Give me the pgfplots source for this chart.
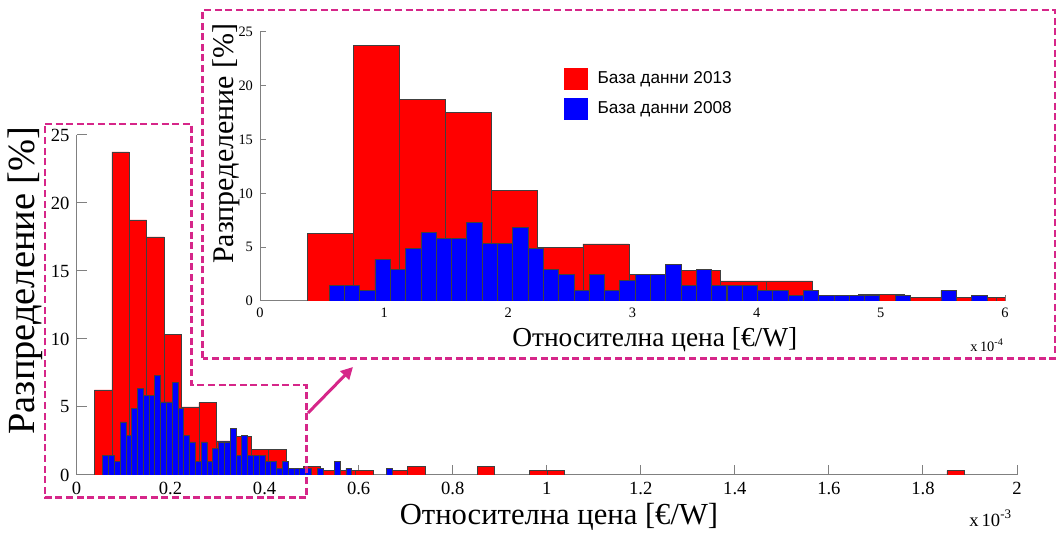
\documentclass[border=0pt]{standalone}
\usepackage{pgfplots}
\pgfplotsset{compat=1.18}
\usepackage{pgfplotstable}
\usepackage{fontspec}
\setmainfont{Liberation Serif}
\newfontfamily\legendfont{Liberation Sans}
\usetikzlibrary{arrows.meta}

\definecolor{frame}{RGB}{214,38,137}
\definecolor{axisgray}{RGB}{128,128,128}

% Histogram of relative price, 2013 database (bin centres in 1e-4 EUR/W, share in %)
\pgfplotstableread{
x       y
0.566   6.25
0.936   23.75
1.306   18.75
1.676   17.5
2.046   10.3125
2.416   5
2.786   5.3125
3.156   2.5
3.526   2.8125
3.896   1.875
4.266   1.875
4.636   0
5.006   0.625
5.376   0.3125
5.746   0.3125
6.116   0.3125
6.486   0
6.856   0.3125
7.226   0.625
7.596   0
7.966   0
8.336   0
8.706   0.625
9.076   0
9.446   0
9.816   0.3125
10.186  0.3125
10.556  0
10.926  0
11.296  0
11.666  0
12.036  0
12.406  0
12.776  0
13.146  0
13.516  0
13.886  0
14.256  0
14.626  0
14.996  0
15.366  0
15.736  0
16.106  0
16.476  0
16.846  0
17.216  0
17.586  0
17.956  0
18.326  0
18.696  0.3125
}\dataA

% Histogram of relative price, 2008 database
\pgfplotstableread{
x       y
0.618   1.46
0.741   1.46
0.864   0.98
0.987   3.90
1.110   2.93
1.234   4.88
1.357   6.34
1.480   5.85
1.603   5.85
1.726   7.32
1.850   5.37
1.973   5.37
2.096   6.83
2.219   4.88
2.342   2.93
2.466   2.44
2.589   0.98
2.712   2.44
2.835   0.98
2.958   1.95
3.082   2.44
3.205   2.44
3.328   3.41
3.451   1.46
3.574   2.93
3.698   1.46
3.821   1.46
3.944   1.46
4.067   0.98
4.190   0.98
4.314   0.49
4.437   0.98
4.560   0.49
4.683   0.49
4.806   0.49
4.930   0.49
5.053   0
5.176   0.49
5.299   0
5.422   0
5.546   0.98
5.669   0
5.792   0.49
5.915   0
6.038   0
6.162   0
6.285   0
6.408   0
6.531   0
6.654   0.49
}\dataB

\pgfplotsset{
  histaxis/.style={
    scale only axis,
    axis x line=bottom, axis y line=left,
    axis line style={-, draw=axisgray, line width=0.5pt},
    tick style={draw=axisgray, line width=0.5pt},
    tick align=inside,
    ymin=0, ymax=25, ytick={0,5,...,25},
    /pgf/number format/assume math mode=true,
    clip mode=individual,
  },
  redbar/.style={ybar, bar shift=0pt, fill=red, draw=black!75, line width=0.3pt,
    restrict y to domain=0.01:100},
  bluebar/.style={ybar, bar shift=0pt, fill=blue, draw=black!75, line width=0.3pt,
    restrict y to domain=0.01:100},
}

\begin{document}
\begin{tikzpicture}
\path[use as bounding box] (0pt,0pt) rectangle (529pt,266.5pt);

% full range
\begin{axis}[histaxis,
  at={(38.25pt,29pt)}, anchor=south west,
  width=470.25pt, height=170pt,
  xmin=0, xmax=2, xtick={0,0.2,...,2},
  major tick length=5pt,
  tick label style={font=\fontsize{9.3}{11}\selectfont},
  xlabel={Относителна цена [€/W]},
  ylabel={Разпределение [\%]},
  xlabel style={font=\fontsize{15.3}{18}\selectfont,
    at={(axis description cs:0.513,-0.124)}, anchor=center},
  ylabel style={font=\fontsize{19.2}{22}\selectfont,
    at={(axis description cs:-0.055,0.572)}, anchor=center},
]
\addplot[redbar, bar width=0.037] table[x expr=\thisrow{x}/10, y=y] {\dataA};
\addplot[bluebar, bar width=0.01232] table[x expr=\thisrow{x}/10, y=y] {\dataB};
\node[font=\fontsize{9.3}{11}\selectfont, anchor=center] at (rel axis cs:0.972,-0.128) {x\,10\textsuperscript{-3}};
\end{axis}

% zoom on 0 ... 6e-4
\begin{axis}[histaxis,
  at={(130pt,116pt)}, anchor=south west,
  width=372.5pt, height=134.5pt,
  xmin=0, xmax=6, xtick={0,1,...,6},
  major tick length=3pt,
  tick label style={font=\fontsize{7.2}{9}\selectfont},
  xlabel={Относителна цена [€/W]},
  ylabel={Разпределение [\%]},
  xlabel style={font=\fontsize{13.7}{16}\selectfont,
    at={(axis description cs:0.53,-0.145)}, anchor=center},
  ylabel style={font=\fontsize{15}{18}\selectfont,
    at={(axis description cs:-0.045,0.585)}, anchor=center},
  legend style={at={(axis description cs:0.407,0.871)}, anchor=north west,
    draw=none, fill=none, inner sep=0pt, row sep=3.5pt,
    font=\legendfont\fontsize{8.6}{10}\selectfont},
  legend cell align=left,
  legend image code/.code={\path[#1, draw=none] (-1pt,-5.5pt) rectangle (11pt,5.5pt);},
]
\addplot[redbar, bar width=0.370] table[x=x, y=y] {\dataA};
\addlegendentry{\hspace{3pt}База данни 2013}
\addplot[bluebar, bar width=0.1232] table[x=x, y=y] {\dataB};
\addlegendentry{\hspace{3pt}База данни 2008}
\node[font=\fontsize{7.2}{9}\selectfont, anchor=center] at (rel axis cs:0.976,-0.164) {x\,10\textsuperscript{-4}};
\end{axis}

% dashed outlines and pointer
\draw[frame, line width=1.25pt, dash pattern=on 3.5pt off 1.8pt]
  (22.5pt,204.5pt) -- (95.85pt,204.5pt) -- (95.85pt,74pt) -- (153.35pt,74pt)
  -- (153.35pt,17.65pt) -- (22.5pt,17.65pt) -- cycle;
\draw[frame, line width=1.25pt, dash pattern=on 3.5pt off 1.8pt]
  (101.35pt,87.35pt) rectangle (527.5pt,261.5pt);
\draw[frame, line width=1.5pt, -{Triangle[length=6pt,width=6pt]}]
  (154pt,60pt) -- (176.5pt,83pt);
\end{tikzpicture}
\end{document}
